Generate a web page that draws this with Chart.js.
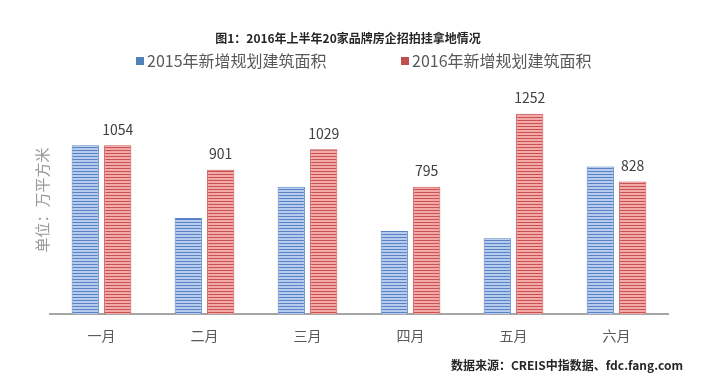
<!DOCTYPE html>
<html lang="zh">
<head>
<meta charset="UTF-8">
<title>2016年上半年20家品牌房企招拍挂拿地情况</title>
<script src="https://cdn.jsdelivr.net/npm/chart.js"></script>
<style>
  html, body { margin: 0; padding: 0; background: #fff; }
  #wrap { width: 711px; height: 388px; position: relative; }
</style>
</head>
<body>
<div id="wrap"><canvas id="landChart" width="711" height="388"></canvas></div>
<script>
const months = ['一月', '二月', '三月', '四月', '五月', '六月'];
const area2015 = [1054, 600, 795, 518, 473, 922];
const area2016 = [1054, 901, 1029, 795, 1252, 828];
const seriesNames = ['2015年新增规划建筑面积', '2016年新增规划建筑面积'];

const CJK = '"Noto Sans CJK SC", "Noto Sans", sans-serif';

// horizontal stripe fill like the original bars
function stripes(dark, light) {
  const c = document.createElement('canvas');
  c.width = 4; c.height = 3;
  const g = c.getContext('2d');
  g.fillStyle = light; g.fillRect(0, 0, 4, 3);
  g.fillStyle = dark; g.fillRect(0, 0, 4, 1);
  return document.getElementById('landChart').getContext('2d').createPattern(c, 'repeat');
}

const decor = {
  id: 'decor',
  afterDraw(chart) {
    const ctx = chart.ctx;
    ctx.save();
    // title
    ctx.fillStyle = '#262626';
    ctx.font = 'bold 12px ' + CJK;
    ctx.textAlign = 'center';
    ctx.textBaseline = 'middle';
    ctx.fillText('图1：2016年上半年20家品牌房企招拍挂拿地情况', 348, 38);

    // legend
    ctx.font = '16px ' + CJK;
    ctx.textAlign = 'left';
    ctx.fillStyle = '#4f81bd';
    ctx.fillRect(136, 57, 8, 8);
    ctx.fillStyle = '#c0504d';
    ctx.fillRect(401, 57, 8, 8);
    ctx.fillStyle = '#595959';
    ctx.fillText(seriesNames[0], 147, 61);
    ctx.fillText(seriesNames[1], 412, 61);

    // unit label
    ctx.save();
    ctx.translate(42, 200);
    ctx.rotate(-Math.PI / 2);
    ctx.textAlign = 'center';
    ctx.font = '15px ' + CJK;
    ctx.fillStyle = '#999999';
    ctx.fillText('单位：万平方米', 0, 0);
    ctx.restore();

    // values over 2016 bars
    ctx.font = '14px ' + CJK;
    ctx.fillStyle = '#404040';
    ctx.textAlign = 'center';
    chart.getDatasetMeta(1).data.forEach((bar, i) => {
      ctx.fillText(area2016[i], bar.x, bar.y - 16);
    });

    // source
    ctx.font = 'bold 12px ' + CJK;
    ctx.fillStyle = '#262626';
    ctx.textAlign = 'right';
    ctx.fillText('数据来源：CREIS中指数据、fdc.fang.com', 683, 365);
    ctx.restore();
  }
};

new Chart(document.getElementById('landChart'), {
  type: 'bar',
  data: {
    labels: months,
    datasets: [{
      label: seriesNames[0],
      data: area2015,
      backgroundColor: stripes('#5a82c4', '#b5ccef'),
      borderColor: '#5a82c4',
      borderWidth: 1,
      categoryPercentage: 0.63,
      barPercentage: 0.84
    }, {
      label: seriesNames[1],
      data: area2016,
      backgroundColor: stripes('#c95252', '#f4a9a9'),
      borderColor: '#c95252',
      borderWidth: 1,
      categoryPercentage: 0.63,
      barPercentage: 0.84
    }]
  },
  options: {
    responsive: false,
    animation: false,
    layout: { padding: { top: 90, left: 50, right: 43, bottom: 34 } },
    plugins: {
      legend: { display: false },
      tooltip: { enabled: false }
    },
    scales: {
      x: {
        afterFit(scale) { scale.height = 40; },
        grid: { display: true, color: 'rgba(0,0,0,0)', drawTicks: false },
        border: { color: '#a6a6a6', width: 2 },
        ticks: { color: '#595959', font: { family: CJK, size: 14 }, padding: 13 }
      },
      y: {
        display: false,
        min: 0,
        max: 1400
      }
    }
  },
  plugins: [decor]
});
</script>
</body>
</html>
